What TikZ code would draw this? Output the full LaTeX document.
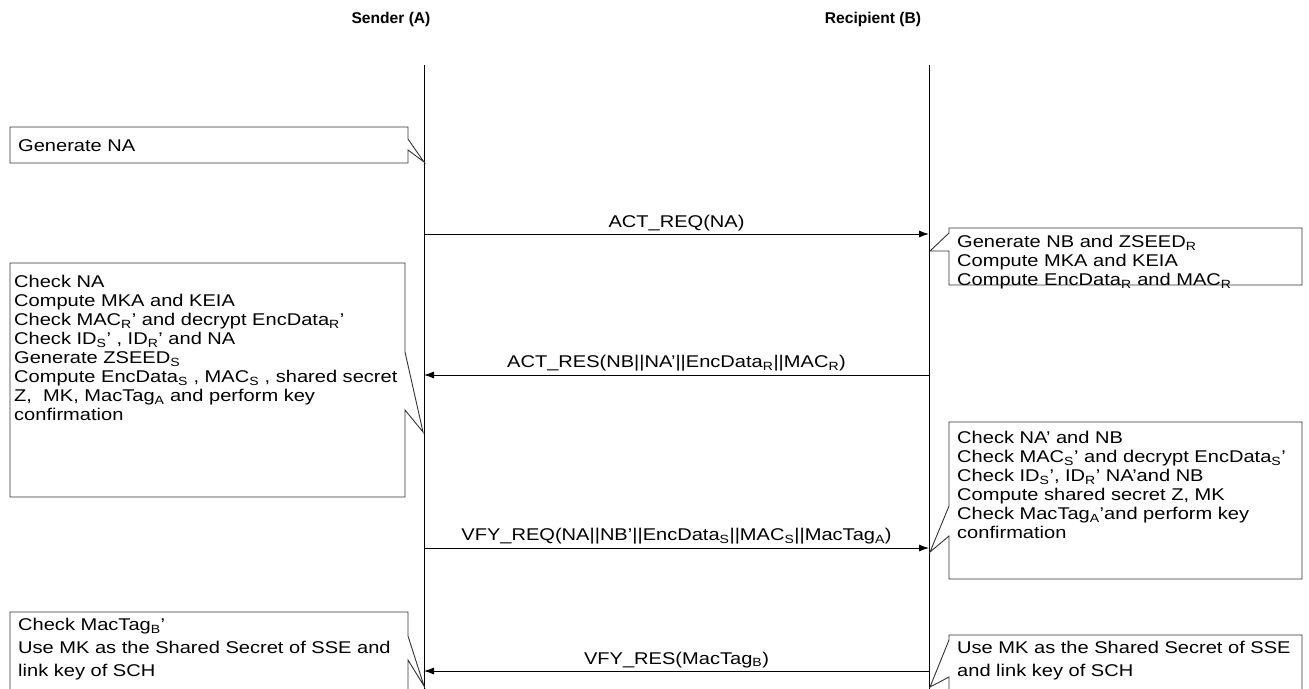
\documentclass[tikz,border=0pt]{standalone}
\usepackage{fontspec}
\setmainfont{Liberation Sans}
\newfontfamily\notefont[FakeStretch=1.18,Ligatures=TeX]{Liberation Sans}
\usetikzlibrary{arrows.meta}

\begin{document}
\begin{tikzpicture}[x=1pt,y=-1pt,
        note/.style = {draw=black!80, line width=0.9pt},
        notetext/.style = {anchor=north west, inner sep=0pt, align=left, font=\notefont\fontsize{17}{19}\selectfont},
        widetext/.style = {notetext, font=\notefont\fontsize{17}{23}\selectfont},
        lifeline/.style = {line width=0.9pt},
        msg/.style = {line width=0.9pt, -{Latex[length=10pt,width=7pt]}},
        msglabel/.style = {above, inner sep=3pt, font=\notefont\fontsize{17}{17}\selectfont},
        actor/.style = {font=\bfseries\fontsize{15.6}{16}\selectfont}
    ]
        \clip (0,0) rectangle (1309,688);
        % actors and lifelines
        \node[actor] (sender) at (391,19) {Sender (A)};
        \node[actor] (recipient) at (873,19) {Recipient (B)};
        \coordinate (Atop) at (424,65);
        \coordinate (Abot) at (424,690);
        \coordinate (Btop) at (929,65);
        \coordinate (Bbot) at (929,690);
        \draw[lifeline] (Atop) -- (Abot);
        \draw[lifeline] (Btop) -- (Bbot);

        % messages
        \coordinate (A1) at (424,234); \coordinate (B1) at (929,234);
        \coordinate (A2) at (424,375); \coordinate (B2) at (929,375);
        \coordinate (A3) at (424,548); \coordinate (B3) at (929,548);
        \coordinate (A4) at (424,671); \coordinate (B4) at (929,671);
        \draw[msg] (A1) -- node[msglabel] {ACT\_REQ(NA)} (B1);
        \draw[msg] (B2) -- node[msglabel] {ACT\_RES(NB||NA'||EncData\textsubscript{R}||MAC\textsubscript{R})} (A2);
        \draw[msg] (A3) -- node[msglabel] {VFY\_REQ(NA||NB'||EncData\textsubscript{S}||MAC\textsubscript{S}||MacTag\textsubscript{A})} (B3);
        \draw[msg] (B4) -- node[msglabel] {VFY\_RES(MacTag\textsubscript{B})} (A4);

        % notes of the sender
        \draw[note] (10,127) -- (408,127) -- (408,139) -- (424,162) -- (408,150) -- (408,163) -- (10,163) -- cycle;
        \node[notetext] (genNA) at (18,139) {Generate NA};
        \draw[note] (10,263) -- (405,263) -- (405,352) -- (423,432) -- (405,410) -- (405,497) -- (10,497) -- cycle;
        \node[notetext] (checkNA) at (14,275) {Check NA\\
            Compute MKA and KEIA\\
            Check MAC\textsubscript{R}' and decrypt EncData\textsubscript{R}'\\
            Check ID\textsubscript{S}' , ID\textsubscript{R}' and NA\\
            Generate ZSEED\textsubscript{S}\\
            Compute EncData\textsubscript{S} , MAC\textsubscript{S} , shared secret\\
            Z,\ \ MK, MacTag\textsubscript{A} and perform key\\
            confirmation};
        \draw[note] (10,700) -- (10,612) -- (408,612) -- (408,636) -- (424,686) -- (408,660) -- (408,700);
        \node[widetext] (useMKA) at (18,618) {Check MacTag\textsubscript{B}'\\
            Use MK as the Shared Secret of SSE and\\
            link key of SCH};

        % notes of the recipient
        \draw[note] (949,228) -- (1302,228) -- (1302,285) -- (949,285) -- (949,251) -- (930,251) -- (949,233) -- cycle;
        \node[notetext] (genNB) at (957,235) {Generate NB and ZSEED\textsubscript{R}\\
            Compute MKA and KEIA\\
            Compute EncData\textsubscript{R} and MAC\textsubscript{R}};
        \draw[note] (949,422) -- (1302,422) -- (1302,579) -- (949,579) -- (949,536) -- (930,552) -- (949,506) -- cycle;
        \node[notetext] (checkNB) at (957,431) {Check NA' and NB\\
            Check MAC\textsubscript{S}' and decrypt EncData\textsubscript{S}'\\
            Check ID\textsubscript{S}', ID\textsubscript{R}' NA'and NB\\
            Compute shared secret Z, MK\\
            Check MacTag\textsubscript{A}'and perform key\\
            confirmation};
        \draw[note] (1302,700) -- (1302,635) -- (949,635) -- (949,640) -- (930,687) -- (949,677) -- (949,700);
        \node[widetext] (useMKB) at (957,641) {Use MK as the Shared Secret of SSE\\
            and link key of SCH};
\end{tikzpicture}
\end{document}
